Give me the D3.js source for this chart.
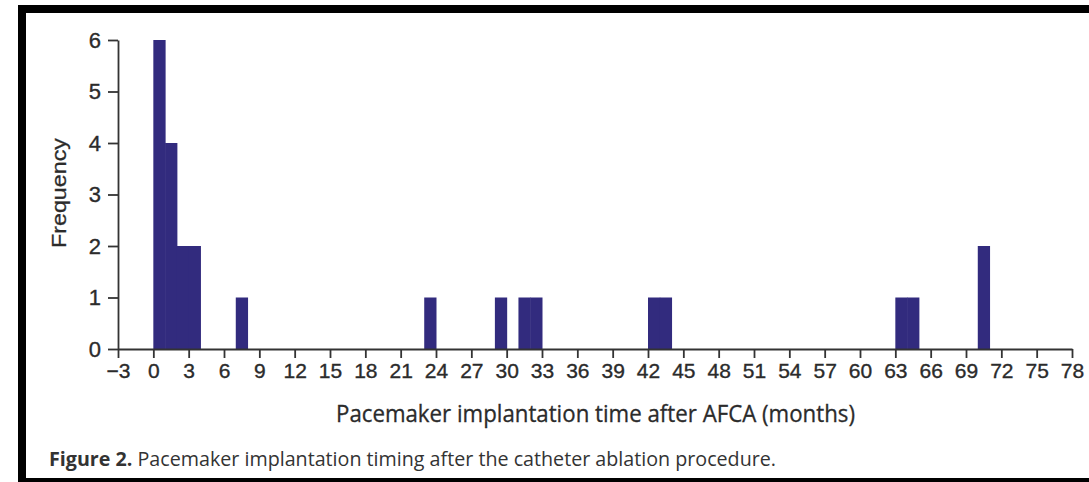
<!DOCTYPE html>
<html>
<head>
<meta charset="utf-8">
<script src="https://cdn.jsdelivr.net/npm/d3@7/dist/d3.min.js"></script>
<style>
  html, body { margin: 0; padding: 0; background: #fff; }
  svg { display: block; }
</style>
</head>
<body>
<svg id="chart" width="1089" height="482"></svg>
<script>
// Histogram bins (start month of each 1-month bin) and their counts
var binStart = [0, 1, 2, 3, 7, 23, 29, 31, 32, 42, 43, 63, 64, 70];
var counts   = [6, 4, 2, 2, 1, 1, 1, 1, 1, 1, 1, 1, 1, 2];
var xTicks = d3.range(-3, 79, 3);
var yTicks = [0, 1, 2, 3, 4, 5, 6];

var svg = d3.select("#chart");

// frame round the figure (right and bottom clipped like the scan)
svg.append("rect")
    .attr("x", 22).attr("y", 9)
    .attr("width", 1100).attr("height", 473)
    .attr("fill", "none")
    .attr("stroke", "#000")
    .attr("stroke-width", 8);

var x = d3.scaleLinear().domain([-3, 78]).range([118, 1072]);
var y = d3.scaleLinear().domain([0, 6]).range([349, 40]);

var barColor = "#322b7e",
    axisColor = "#333",
    textColor = "#2b2b2b";

// bars
svg.append("g")
  .selectAll("rect")
  .data(binStart)
  .enter().append("rect")
    .attr("x", function(d){ return x(d); })
    .attr("width", function(d){ return x(d + 1) - x(d) + 0.5; })
    .attr("y", function(d, i){ return y(counts[i]); })
    .attr("height", function(d, i){ return y(0) - y(counts[i]); })
    .attr("fill", barColor);

// x axis
var gx = svg.append("g")
    .attr("transform", "translate(0," + y(0) + ")")
    .call(d3.axisBottom(x).tickValues(xTicks).tickSize(9).tickSizeOuter(0).tickPadding(5));

// y axis
var gy = svg.append("g")
    .attr("transform", "translate(" + x(-3) + ",0)")
    .call(d3.axisLeft(y).tickValues(yTicks).tickFormat(d3.format("d"))
      .tickSize(10).tickSizeOuter(0).tickPadding(7));

[gx, gy].forEach(function(g){
  g.attr("font-size", null).attr("font-family", null);
  g.selectAll("path, line").attr("stroke", axisColor).attr("stroke-width", 1.8);
  g.selectAll("text")
    .attr("fill", textColor)
    .attr("stroke", textColor)
    .attr("stroke-width", 0.35)
    .attr("font-family", "Liberation Sans, Arial, sans-serif")
    .attr("font-size", 21);
});
gy.selectAll("text").attr("font-size", 22);

// axis titles
svg.append("text")
    .attr("transform", "translate(66,193) rotate(-90)")
    .attr("text-anchor", "middle")
    .attr("textLength", 110)
    .attr("lengthAdjust", "spacingAndGlyphs")
    .attr("fill", textColor)
    .attr("stroke", textColor)
    .attr("stroke-width", 0.3)
    .attr("font-family", "Liberation Sans, Arial, sans-serif")
    .attr("font-size", 21)
    .text("Frequency");

svg.append("text")
    .attr("x", 336).attr("y", 422)
    .attr("textLength", 519)
    .attr("lengthAdjust", "spacingAndGlyphs")
    .attr("fill", textColor)
    .attr("stroke", textColor)
    .attr("stroke-width", 0.3)
    .attr("font-family", "Open Sans, sans-serif")
    .attr("font-size", 23)
    .text("Pacemaker implantation time after AFCA (months)");

// caption
var cap = svg.append("text")
    .attr("x", 49).attr("y", 466)
    .attr("textLength", 727)
    .attr("lengthAdjust", "spacingAndGlyphs")
    .attr("fill", "#333")
    .attr("font-family", "Open Sans, sans-serif")
    .attr("font-size", 20);
cap.append("tspan").attr("font-weight", "bold").text("Figure 2.");
cap.append("tspan").text(" Pacemaker implantation timing after the catheter ablation procedure.");
</script>
</body>
</html>
